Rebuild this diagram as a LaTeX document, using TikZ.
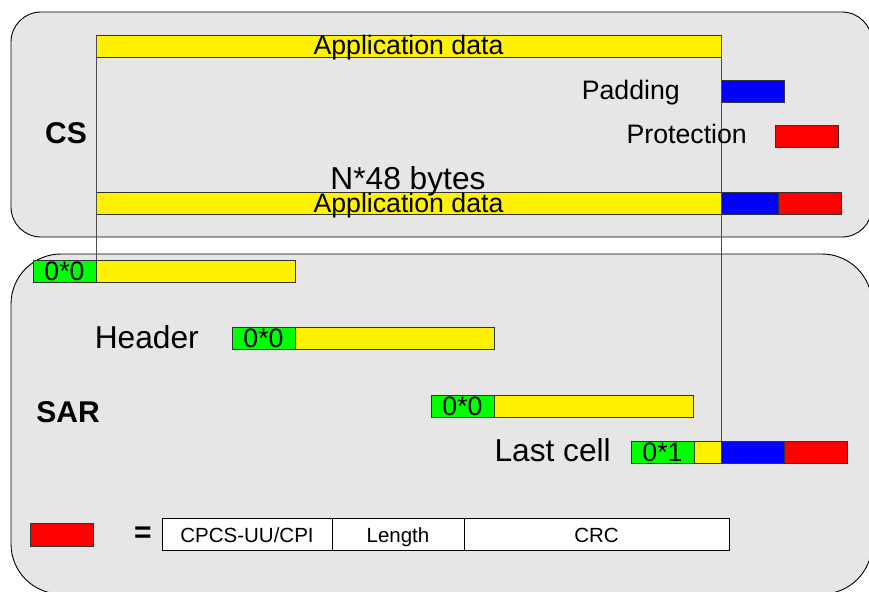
\documentclass[tikz,border=0pt]{standalone}
\usepackage{fontspec}
\setmainfont{Liberation Sans}
\definecolor{panelgray}{HTML}{E6E6E6}
\definecolor{edgegray}{HTML}{333333}
\newcommand{\txtN}{\fontsize{26.7}{30}\selectfont}
\newcommand{\txtL}{\fontsize{31.7}{36}\selectfont}
\newcommand{\txtB}{\fontsize{30}{34}\selectfont\bfseries}
\newcommand{\txtS}{\fontsize{20.5}{24}\selectfont}
\tikzset{
  panel/.style = {draw = black, line width = 0.9pt, fill = panelgray},
  seg/.style = {draw = edgegray, line width = 0.9pt, inner sep = 0pt, outer sep = 0pt,
                anchor = north west, minimum height = 22pt, text height = 20pt,
                text depth = 2pt, font = \txtN},
  field/.style = {draw = black, line width = 0.9pt, fill = white, inner sep = 0pt,
                  outer sep = 0pt, anchor = north west, minimum height = 32pt,
                  text height = 24pt, text depth = 8pt, font = \txtS},
  lbl/.style = {inner sep = 0pt, font = \txtN},
  guide/.style = {draw = black!70, line width = 0.8pt}
}

\begin{document}
\begin{tikzpicture}[x = 1pt, y = -1pt]
    \useasboundingbox (0,0) rectangle (869,591);
    \clip (0,0) rectangle (869,591);
    \draw[panel, rounded corners = 30pt] (11,12) rectangle (872,237);
    \draw[panel, rounded corners = 50pt] (11,254) rectangle (872,594);

    \node[seg, fill = yellow, minimum width = 625pt] (app) at (96,35) {Application data};
    \node[seg, fill = blue, minimum width = 63pt] (pad) at (721,80) {};
    \node[seg, fill = red, minimum width = 63pt] (prot) at (775,125) {};
    \node[seg, fill = yellow, minimum width = 625pt] (appB) at (96,192) {Application data};
    \node[seg, fill = blue, minimum width = 57pt] (padB) at (appB.north east) {};
    \node[seg, fill = red, minimum width = 63pt] (protB) at (padB.north east) {};

    \node[seg, fill = green, minimum width = 63pt] (hdA) at (33,260) {0*0};
    \node[seg, fill = yellow, minimum width = 199pt] (plA) at (hdA.north east) {};
    \node[seg, fill = green, minimum width = 63pt] (hdB) at (232,327) {0*0};
    \node[seg, fill = yellow, minimum width = 199pt] (plB) at (hdB.north east) {};
    \node[seg, fill = green, minimum width = 63pt] (hdC) at (431,395) {0*0};
    \node[seg, fill = yellow, minimum width = 199pt] (plC) at (hdC.north east) {};
    \node[seg, fill = green, minimum width = 63pt] (hdL) at (631,441) {0*1};
    \node[seg, fill = yellow, minimum width = 27pt] (plL) at (hdL.north east) {};
    \node[seg, fill = blue, minimum width = 63pt] (padL) at (plL.north east) {};
    \node[seg, fill = red, minimum width = 63pt] (protL) at (padL.north east) {};

    \draw[guide] (app.north west) -- (hdA.north east);
    \draw[guide] (app.north east) -- (plL.north east);

    \node[lbl, anchor = base east] (padtxt) at (680,100) {Padding};
    \node[lbl, anchor = base east] (prottxt) at (747,143) {Protection};
    \node[lbl, font = \txtL, anchor = base] (size) at (408,189) {N*48 bytes};
    \node[lbl, font = \txtB, anchor = base] (cs) at (66,143) {CS};
    \node[lbl, font = \txtB, anchor = base] (sar) at (68,422) {SAR};
    \node[lbl, font = \txtL, anchor = base east] (hdtxt) at (199,348) {Header};
    \node[lbl, font = \txtL, anchor = base east] (lasttxt) at (611,461) {Last cell};

    \node[seg, fill = red, minimum width = 63pt, minimum height = 23pt] (key) at (30,523) {};
    \node[lbl, font = \txtB] (eq) at (143,535) {=};
    \node[field, minimum width = 170pt] (cpi) at (162,518) {CPCS-UU/CPI};
    \node[field, minimum width = 132pt] (len) at (cpi.north east) {Length};
    \node[field, minimum width = 265pt] (crc) at (len.north east) {CRC};
\end{tikzpicture}
\end{document}
